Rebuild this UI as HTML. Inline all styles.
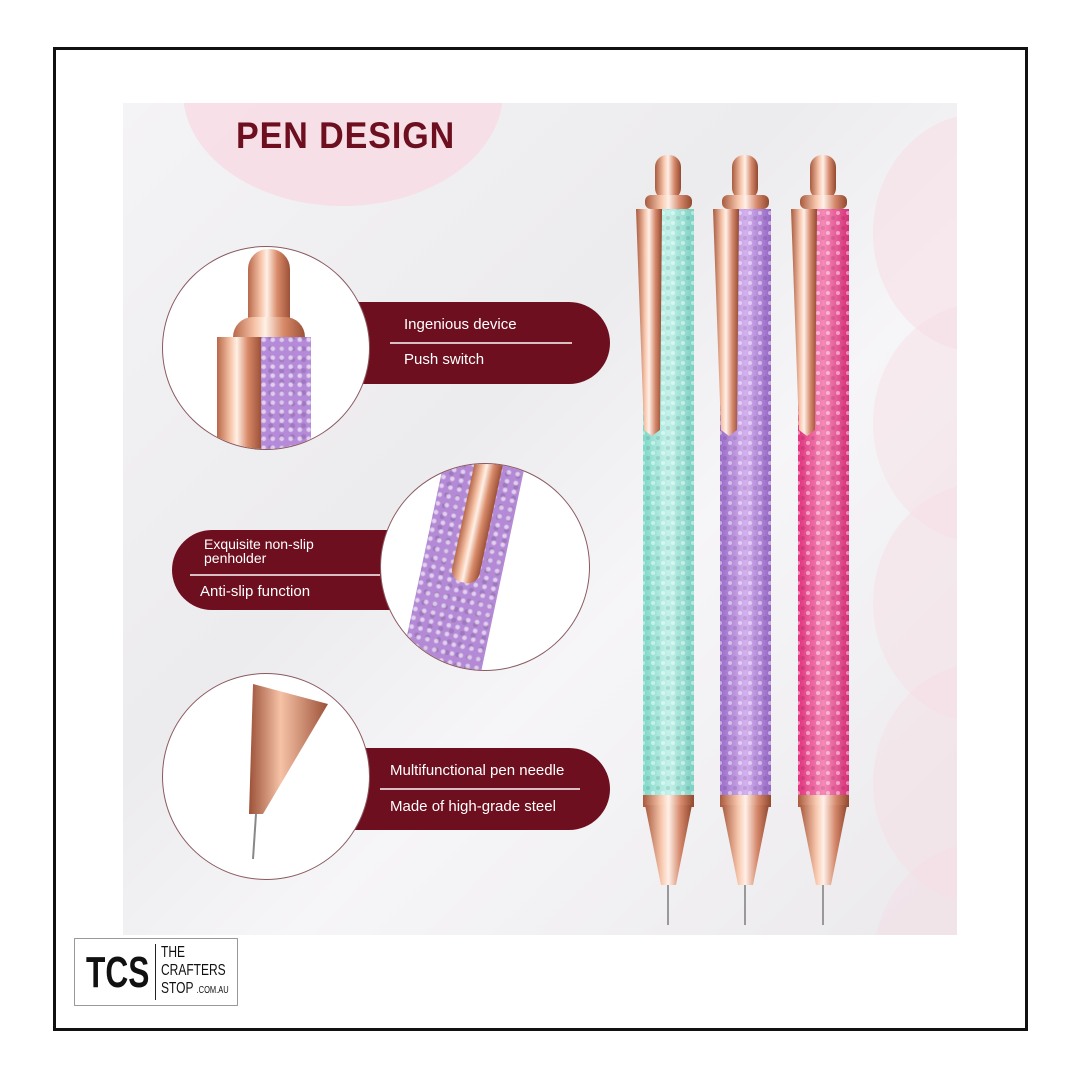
<!DOCTYPE html>
<html><head><style>
*{margin:0;padding:0;box-sizing:border-box}
body{width:1080px;height:1080px;background:#fff;position:relative;overflow:hidden;font-family:"Liberation Sans",sans-serif}
.a{position:absolute}
.frame{left:53px;top:47px;width:975px;height:984px;border:3px solid #111}
.img{left:123px;top:103px;width:834px;height:832px;background:linear-gradient(135deg,#f4f3f5,#ecebee 40%,#f6f5f7 60%,#ebe9ec);overflow:hidden}
.pk{border-radius:50%;background:#f7dbe4}
.pill{background:#6d0f1f;color:#fff;font-size:15px}
.circ{border-radius:50%;background:#fff;border:1.5px solid #8a5a60;overflow:hidden}
.ln{height:2px;background:#d9bfc4}
.rg{background:linear-gradient(90deg,#b8684a,#f6c2a6 30%,#fff0e6 45%,#d88a68 70%,#9c5138)}
.glt{background:radial-gradient(circle at 30% 30%,rgba(255,255,255,.6) 1.5px,transparent 3px) 0 0/9px 9px,radial-gradient(circle at 60% 70%,rgba(0,0,0,.12) 2px,transparent 3px) 3px 4px/11px 11px}
</style></head><body>
<div class="a frame"></div>
<div class="a img">
  <div class="a pk" style="left:60px;top:-125px;width:320px;height:228px;opacity:.8"></div>
  <div class="a pk" style="left:750px;top:10px;width:220px;height:240px;opacity:.5"></div>
  <div class="a pk" style="left:750px;top:200px;width:220px;height:240px;opacity:.4"></div>
  <div class="a pk" style="left:750px;top:380px;width:220px;height:240px;opacity:.4"></div>
  <div class="a pk" style="left:750px;top:560px;width:220px;height:240px;opacity:.4"></div>
  <div class="a pk" style="left:750px;top:740px;width:220px;height:240px;opacity:.4"></div>
</div>
<div class="a" style="left:236px;top:115px;font-size:37px;font-weight:bold;color:#6d0f1f;letter-spacing:1px;transform:scaleX(.92);transform-origin:left">PEN DESIGN</div>

<div class="a pill" style="left:300px;top:302px;width:310px;height:82px;border-radius:0 41px 41px 0"></div>
<div class="a" style="left:404px;top:316px;color:#fff;font-size:15px">Ingenious device</div>
<div class="a ln" style="left:390px;top:342px;width:182px"></div>
<div class="a" style="left:404px;top:351px;color:#fff;font-size:15px">Push switch</div>
<div class="a circ" style="left:162px;top:246px;width:208px;height:204px">
  <div class="a rg" style="left:85px;top:2px;width:42px;height:80px;border-radius:20px 20px 0 0"></div>
  <div class="a rg" style="left:70px;top:70px;width:72px;height:22px;border-radius:20px 20px 0 0"></div>
  <div class="a rg" style="left:54px;top:90px;width:44px;height:120px"></div>
  <div class="a glt" style="left:98px;top:90px;width:50px;height:120px;background-color:#b58ad8"></div>
</div>

<div class="a pill" style="left:172px;top:530px;width:260px;height:80px;border-radius:40px 0 0 40px"></div>
<div class="a" style="left:204px;top:537px;color:#fff;font-size:14px;line-height:14px">Exquisite non-slip<br>penholder</div>
<div class="a ln" style="left:190px;top:574px;width:190px"></div>
<div class="a" style="left:200px;top:583px;color:#fff;font-size:15px">Anti-slip function</div>
<div class="a circ" style="left:380px;top:463px;width:210px;height:208px">
  <div class="a glt" style="left:40px;top:-20px;width:80px;height:260px;background-color:#b48ad6;transform:rotate(12deg)"></div>
  <div class="a rg" style="left:82px;top:-10px;width:28px;height:130px;border-radius:0 0 12px 12px;transform:rotate(12deg)"></div>
</div>

<div class="a pill" style="left:320px;top:748px;width:290px;height:82px;border-radius:0 41px 41px 0"></div>
<div class="a" style="left:390px;top:762px;color:#fff;font-size:15px">Multifunctional pen needle</div>
<div class="a ln" style="left:380px;top:788px;width:200px"></div>
<div class="a" style="left:390px;top:798px;color:#fff;font-size:15px">Made of high-grade steel</div>
<div class="a circ" style="left:162px;top:673px;width:208px;height:207px">
  <svg class="a" style="left:0;top:0" width="208" height="207"><defs><linearGradient id="g" x1="0" x2="1"><stop offset="0" stop-color="#9c5138"/><stop offset=".4" stop-color="#f6c2a6"/><stop offset="1" stop-color="#9c5138"/></linearGradient></defs>
  <polygon points="90,10 165,30 100,140 86,140" fill="url(#g)"/>
  <line x1="93" y1="140" x2="90" y2="185" stroke="#888" stroke-width="2"/></svg>
</div>

<svg class="a" style="left:0;top:0" width="1080" height="1080">
<defs>
<linearGradient id="r" x1="0" x2="1"><stop offset="0" stop-color="#a85a3e"/><stop offset=".35" stop-color="#f8c8ae"/><stop offset=".5" stop-color="#fff0e8"/><stop offset=".75" stop-color="#d4876a"/><stop offset="1" stop-color="#92492f"/></linearGradient>
<linearGradient id="t" x1="0" x2="1"><stop offset="0" stop-color="#7fd8c8"/><stop offset=".5" stop-color="#c4f2ea"/><stop offset="1" stop-color="#7ad0c2"/></linearGradient>
<linearGradient id="p" x1="0" x2="1"><stop offset="0" stop-color="#9a6cc8"/><stop offset=".5" stop-color="#d4b2ee"/><stop offset="1" stop-color="#9466c4"/></linearGradient>
<linearGradient id="k" x1="0" x2="1"><stop offset="0" stop-color="#e0347e"/><stop offset=".5" stop-color="#f58ab8"/><stop offset="1" stop-color="#d62f78"/></linearGradient>
<pattern id="gl" width="10" height="10" patternUnits="userSpaceOnUse"><circle cx="3" cy="3" r="2" fill="#fff" opacity=".45"/><circle cx="8" cy="8" r="2" fill="#000" opacity=".1"/></pattern>
</defs>
<g>
<rect x="655" y="155" width="26" height="45" rx="12" fill="url(#r)"/>
<rect x="645" y="195" width="47" height="14" rx="6" fill="url(#r)"/>
<rect x="643" y="209" width="51" height="592" fill="url(#t)"/>
<rect x="643" y="209" width="51" height="592" fill="url(#gl)"/>
<rect x="643" y="795" width="51" height="12" fill="url(#r)"/>
<polygon points="645,805 692,805 676,885 661,885" fill="url(#r)"/>
<line x1="668" y1="885" x2="668" y2="925" stroke="#999" stroke-width="2"/>
<polygon points="636,209 662,209 660,430 652,436 644,430" fill="url(#r)"/>
</g>
<g transform="translate(77,0)">
<rect x="655" y="155" width="26" height="45" rx="12" fill="url(#r)"/>
<rect x="645" y="195" width="47" height="14" rx="6" fill="url(#r)"/>
<rect x="643" y="209" width="51" height="592" fill="url(#p)"/>
<rect x="643" y="209" width="51" height="592" fill="url(#gl)"/>
<rect x="643" y="795" width="51" height="12" fill="url(#r)"/>
<polygon points="645,805 692,805 676,885 661,885" fill="url(#r)"/>
<line x1="668" y1="885" x2="668" y2="925" stroke="#999" stroke-width="2"/>
<polygon points="636,209 662,209 660,430 652,436 644,430" fill="url(#r)"/>
</g>
<g transform="translate(155,0)">
<rect x="655" y="155" width="26" height="45" rx="12" fill="url(#r)"/>
<rect x="645" y="195" width="47" height="14" rx="6" fill="url(#r)"/>
<rect x="643" y="209" width="51" height="592" fill="url(#k)"/>
<rect x="643" y="209" width="51" height="592" fill="url(#gl)"/>
<rect x="643" y="795" width="51" height="12" fill="url(#r)"/>
<polygon points="645,805 692,805 676,885 661,885" fill="url(#r)"/>
<line x1="668" y1="885" x2="668" y2="925" stroke="#999" stroke-width="2"/>
<polygon points="636,209 662,209 660,430 652,436 644,430" fill="url(#r)"/>
</g>
</svg>

<div class="a" style="left:74px;top:938px;width:164px;height:68px;border:1px solid #999;background:#fff"></div>
<div class="a" style="left:86px;top:948px;font-size:44px;line-height:50px;font-weight:bold;color:#111;transform:scaleX(.72);transform-origin:left">TCS</div>
<div class="a" style="left:155px;top:944px;width:1px;height:56px;background:#222"></div>
<div class="a" style="left:161px;top:944px;font-size:16px;line-height:18px;color:#111;transform:scaleX(.75);transform-origin:left">THE<br>CRAFTERS<br>STOP <span style="font-size:10px">.COM.AU</span></div>
</body></html>
